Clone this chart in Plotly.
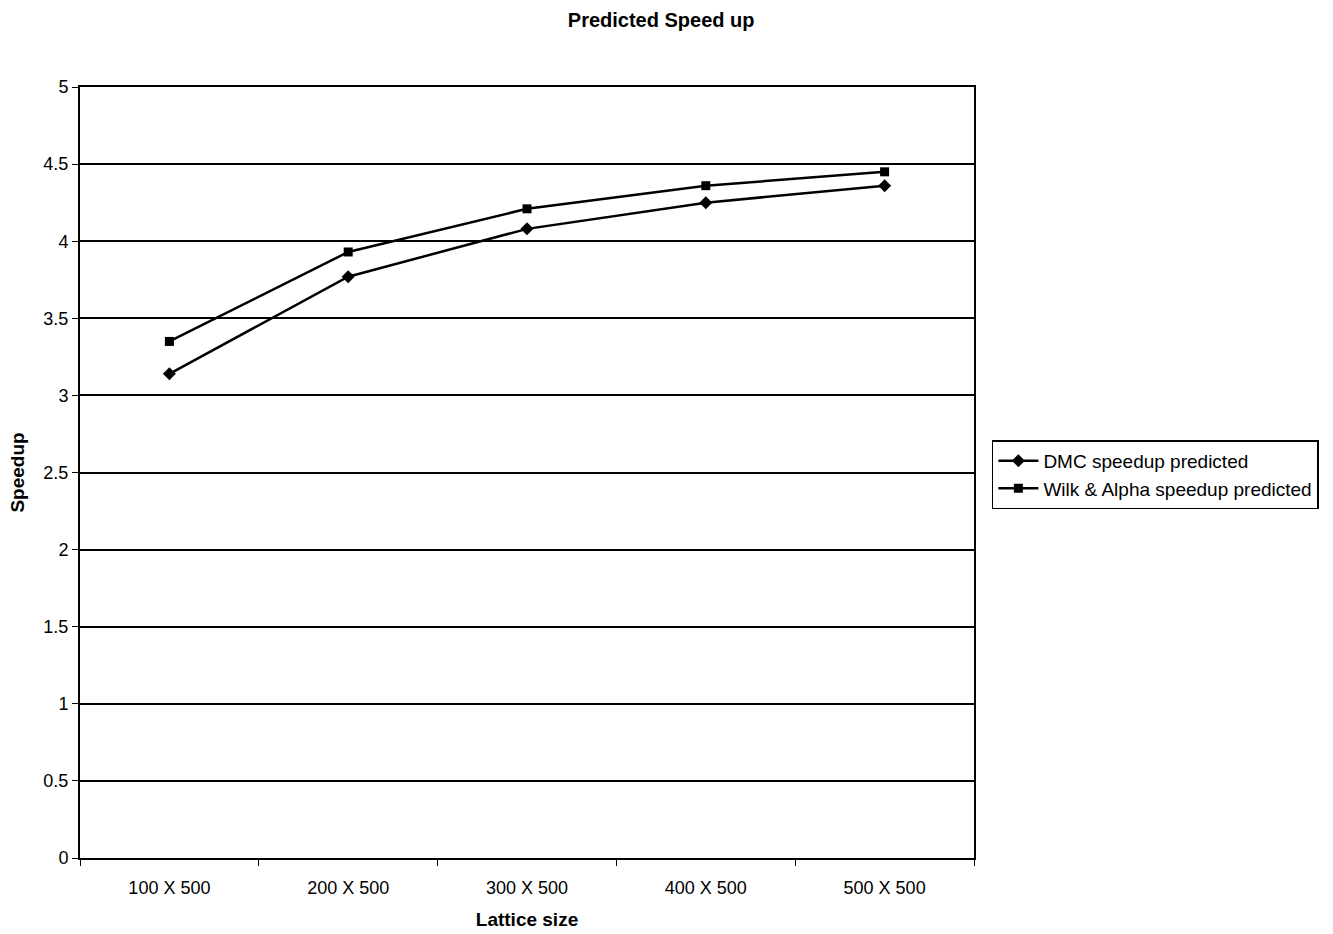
import plotly.graph_objects as go

lattice_sizes = ["100 X 500", "200 X 500", "300 X 500", "400 X 500", "500 X 500"]
dmc_speedup = [3.14, 3.77, 4.08, 4.25, 4.36]
wilk_alpha_speedup = [3.35, 3.93, 4.21, 4.36, 4.45]
y_ticks = [0, 0.5, 1, 1.5, 2, 2.5, 3, 3.5, 4, 4.5, 5]

font_family = "Liberation Sans, Arial, sans-serif"

fig = go.Figure()
fig.add_trace(go.Scatter(
    x=lattice_sizes, y=dmc_speedup, name="DMC speedup predicted",
    mode="lines+markers",
    line=dict(color="black", width=2.5),
    marker=dict(symbol="diamond", size=10, color="black"),
))
fig.add_trace(go.Scatter(
    x=lattice_sizes, y=wilk_alpha_speedup, name="Wilk & Alpha speedup predicted",
    mode="lines+markers",
    line=dict(color="black", width=2.5),
    marker=dict(symbol="square", size=9, color="black"),
))

fig.update_layout(
    width=1333, height=934,
    margin=dict(l=80, r=359, t=87, b=76),
    paper_bgcolor="white", plot_bgcolor="white",
    font=dict(family=font_family, color="black", size=18),
    title=dict(text="<b>Predicted Speed up</b>", x=0.496, xref="container",
               xanchor="center", y=0.979, yanchor="middle", font=dict(size=20)),
    legend=dict(x=1.02, y=0.497, xanchor="left", yanchor="middle",
                bordercolor="black", borderwidth=1.5, itemwidth=40,
                font=dict(size=19), tracegroupgap=0),
    showlegend=True,
)
fig.update_xaxes(
    type="category", range=[-0.5, 4.5], automargin=False,
    showline=True, linecolor="black", linewidth=2, mirror=True,
    ticks="outside", tickson="boundaries", ticklen=6, tickcolor="black",
    ticklabelstandoff=12,
    showgrid=False,
    title=dict(text="<b>Lattice size</b>", font=dict(size=19), standoff=16),
)
fig.update_yaxes(
    range=[0, 5], tickvals=y_ticks, automargin=False,
    ticktext=[f"{v:g}" for v in y_ticks],
    showline=True, linecolor="black", linewidth=2, mirror=True,
    ticks="outside", ticklen=6, tickcolor="black",
    showgrid=True, gridcolor="black", gridwidth=2,
    zeroline=False,
    title=dict(text="<b>Speedup</b>", font=dict(size=19), standoff=14),
)

fig.write_html("out.html")
